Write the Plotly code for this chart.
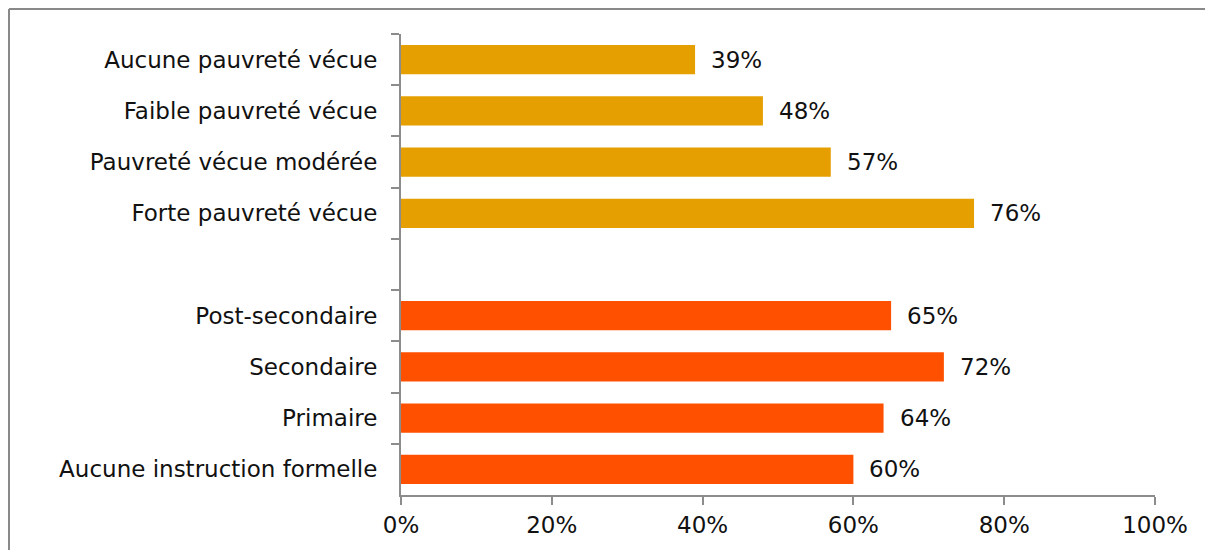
import plotly.graph_objects as go

categories = ["Aucune pauvreté vécue", "Faible pauvreté vécue", "Pauvreté vécue modérée",
              "Forte pauvreté vécue", " ", "Post-secondaire", "Secondaire", "Primaire",
              "Aucune instruction formelle"]
values = [39, 48, 57, 76, None, 65, 72, 64, 60]
group = ["p", "p", "p", "p", None, "e", "e", "e", "e"]
x_ticks = [0, 20, 40, 60, 80, 100]
x_tick_labels = ["0%", "20%", "40%", "60%", "80%", "100%"]

color_map = {"p": "#E69F00", "e": "#FF5000", None: "rgba(0,0,0,0)"}
colors = [color_map[g] for g in group]

FONT = "DejaVu Sans"
FS = 23

fig = go.Figure()
fig.add_trace(go.Bar(
    y=categories, x=[v if v is not None else 0 for v in values], orientation="h",
    marker=dict(color=colors, line=dict(width=0)), width=0.57,
    hoverinfo="skip", showlegend=False,
))

for c, v in zip(categories, values):
    if v is None:
        continue
    fig.add_annotation(x=v, y=c, text=f"{v}%", showarrow=False, xanchor="left",
                       xshift=14, yshift=0, font=dict(family=FONT, size=FS, color="#111111"))

# page body has an 8px margin; figure coordinates are page coordinates minus 8
OFF = 8
W, H = 1213 - 2 * OFF, 558 - 2 * OFF
L, R, T, B = 401 - OFF, 1155 - OFF, 34 - OFF, 495 - OFF
def px(x):
    return (x - L) / (R - L)
def py(y):
    return (B - y) / (B - T)

border = dict(color="#898989", width=2)
fig.add_shape(type="line", xref="paper", yref="paper",
              x0=px(1), x1=px(W), y0=py(1), y1=py(1), line=border, layer="below")
fig.add_shape(type="line", xref="paper", yref="paper",
              x0=px(1), x1=px(1), y0=py(1), y1=py(H), line=border, layer="below")

fig.update_layout(
    width=W, height=H,
    margin=dict(l=L, r=W - R, t=T, b=H - B),
    paper_bgcolor="white", plot_bgcolor="white",
    font=dict(family=FONT, size=FS, color="#111111"),
)
fig.update_xaxes(range=[0, 100], tickvals=x_ticks, ticktext=x_tick_labels,
                 showgrid=False, zeroline=False, showline=True, linecolor="#8c8c8c", linewidth=2,
                 ticks="outside", ticklen=8, tickwidth=2, tickcolor="#8c8c8c",
                 tickfont=dict(family=FONT, size=FS, color="#111111"), fixedrange=True)
fig.update_yaxes(categoryorder="array", categoryarray=categories, autorange="reversed",
                 showgrid=False, zeroline=False, showline=True, linecolor="#8c8c8c", linewidth=2,
                 ticks="outside", tickson="boundaries", ticklen=8, tickwidth=2, tickcolor="#8c8c8c",
                 tickfont=dict(family=FONT, size=FS, color="#111111"), ticklabelstandoff=17,
                 fixedrange=True)

fig.write_html("out.html")
